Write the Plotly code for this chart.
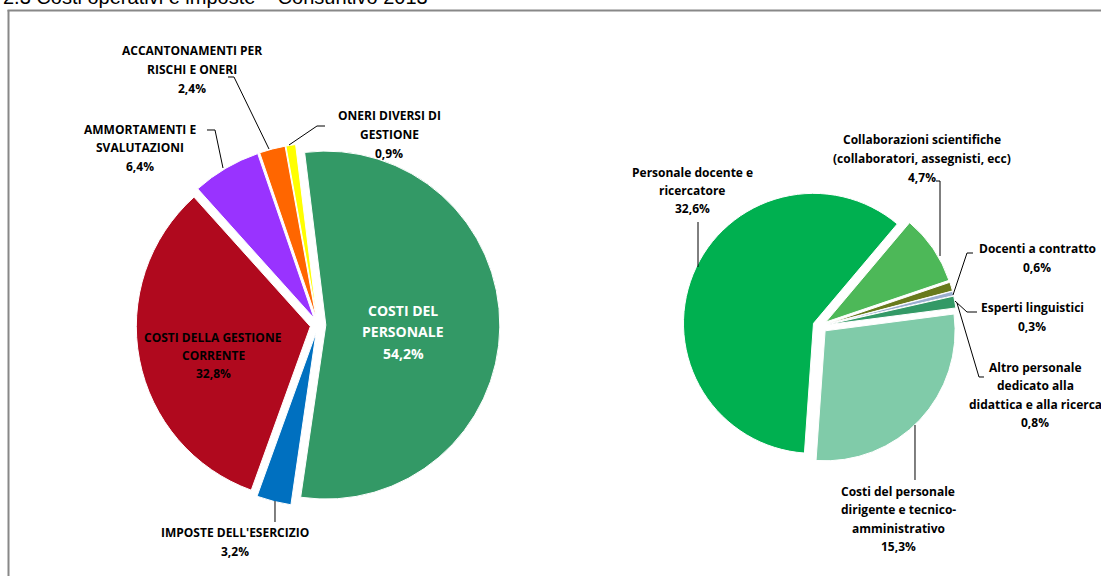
import plotly.graph_objects as go

W, H = 1101, 576

# ---- data -------------------------------------------------------------
title_text = "2.3 Costi operativi e imposte \u2013 Consuntivo 2013"

cost_labels = [
    "COSTI DEL PERSONALE",
    "IMPOSTE DELL'ESERCIZIO",
    "COSTI DELLA GESTIONE CORRENTE",
    "AMMORTAMENTI E SVALUTAZIONI",
    "ACCANTONAMENTI PER RISCHI E ONERI",
    "ONERI DIVERSI DI GESTIONE",
]
cost_values = [54.2, 3.2, 32.8, 6.4, 2.4, 0.9]
cost_colors = ["#339966", "#0070C0", "#B0091E", "#9933FF", "#FF6600", "#FFFF00"]
cost_label_lines = [
    ["COSTI DEL", "PERSONALE"],
    ["IMPOSTE DELL'ESERCIZIO"],
    ["COSTI DELLA GESTIONE", "CORRENTE"],
    ["AMMORTAMENTI E", "SVALUTAZIONI"],
    ["ACCANTONAMENTI PER", "RISCHI E ONERI"],
    ["ONERI DIVERSI DI", "GESTIONE"],
]

staff_labels = [
    "Personale docente e ricercatore",
    "Collaborazioni scientifiche (collaboratori, assegnisti, ecc)",
    "Docenti a contratto",
    "Esperti linguistici",
    "Altro personale dedicato alla didattica e alla ricerca",
    "Costi del personale dirigente e tecnico-amministrativo",
]
staff_values = [32.6, 4.7, 0.6, 0.3, 0.8, 15.3]
staff_colors = ["#00B050", "#4DB858", "#687A1C", "#9AAECF", "#339966", "#80CBA9"]
staff_label_lines = [
    ["Personale docente e", "ricercatore"],
    ["Collaborazioni scientifiche", "(collaboratori, assegnisti, ecc)"],
    ["Docenti a contratto"],
    ["Esperti linguistici"],
    ["Altro personale", "dedicato alla", "didattica e alla ricerca"],
    ["Costi del personale", "dirigente e tecnico-", "amministrativo"],
]


def fx(px):
    return px / W


def fy(py):
    return 1 - py / H


def pct(v):
    return f"{v:.1f}".replace(".", ",") + "%"


def pie_domain(cx, cy, r, pull):
    half = r * (1 + pull)
    return dict(x=[fx(cx - half), fx(cx + half)], y=[fy(cy + half), fy(cy - half)])


LABEL_FONT = "Open Sans"

fig = go.Figure()

left_pull = 0.045
fig.add_trace(go.Pie(
    labels=cost_labels, values=cost_values, sort=False, direction="clockwise",
    rotation=-7, pull=[left_pull] * len(cost_values),
    marker=dict(colors=cost_colors, line=dict(color="white", width=1)),
    textinfo="none", hoverinfo="label+percent",
    domain=pie_domain(318, 325, 174, left_pull),
))

right_pull = 0.054
fig.add_trace(go.Pie(
    labels=staff_labels, values=staff_values, sort=False, direction="clockwise",
    rotation=184, pull=[right_pull] * len(staff_values),
    marker=dict(colors=staff_colors, line=dict(color="white", width=1)),
    textinfo="none", hoverinfo="label+value",
    domain=pie_domain(820, 326, 130, right_pull),
))

annotations = []


def text_block(lines, cx, y0, dy, size=12, color="#000000"):
    for k, line in enumerate(lines):
        annotations.append(dict(
            text=f"<b>{line}</b>", x=fx(cx), y=fy(y0 + k * dy),
            xref="paper", yref="paper", xanchor="center", yanchor="middle",
            showarrow=False, font=dict(family=LABEL_FONT, size=size, color=color),
        ))


# label placement: (center x, first line y, line step, size, colour)
cost_label_pos = [
    (403, 310, 21.5, 14, "#FFFFFF"),
    (235, 532, 19, 12, "#000000"),
    (213, 337, 18, 12, "#000000"),
    (140, 129, 18.5, 12, "#000000"),
    (192, 51, 18.5, 12, "#000000"),
    (389, 116, 18.5, 12, "#000000"),
]
for lines, v, (cx, y0, dy, sz, col) in zip(cost_label_lines, cost_values, cost_label_pos):
    text_block(lines + [pct(v)], cx, y0, dy, sz, col)

staff_label_pos = [
    (692, 172, 18, 12, "#000000"),
    (922, 139, 19, 12, "#000000"),
    (1037, 248, 19, 12, "#000000"),
    (1032, 307, 19, 12, "#000000"),
    (1035, 367, 18.5, 12, "#000000"),
    (898, 491, 18.5, 12, "#000000"),
]
for lines, v, (cx, y0, dy, sz, col) in zip(staff_label_lines, staff_values, staff_label_pos):
    text_block(lines + [pct(v)], cx, y0, dy, sz, col)

# page heading, partly above the top edge
annotations.append(dict(
    text=title_text, x=fx(1), y=fy(-3), xref="paper", yref="paper",
    xanchor="left", yanchor="middle", showarrow=False,
    font=dict(family="Liberation Sans, Arial", size=20, color="#000000"),
))

# leader lines (pixel polylines)
leaders = [
    [(228, 77), (234, 77), (269, 149)],
    [(325, 126), (317, 126), (289, 145)],
    [(207, 130), (215, 130), (223, 168)],
    [(275, 501), (275, 522)],
    [(698, 222), (698, 267)],
    [(936, 181), (940, 181), (940, 256)],
    [(973, 253), (967, 253), (953, 295)],
    [(955, 301), (967, 312), (977, 312)],
    [(957, 303), (979, 377), (984, 377)],
    [(915, 425), (915, 480)],
]
shapes = []
for pts in leaders:
    path = "M " + " L ".join(f"{fx(x):.5f},{fy(y):.5f}" for x, y in pts)
    shapes.append(dict(type="path", path=path, xref="paper", yref="paper",
                       line=dict(color="#000000", width=1)))

# chart frame
shapes.append(dict(type="line", xref="paper", yref="paper",
                   x0=fx(8.5), x1=fx(8.5), y0=fy(10), y1=fy(600),
                   line=dict(color="#888888", width=2)))
shapes.append(dict(type="line", xref="paper", yref="paper",
                   x0=fx(7.5), x1=fx(1120), y0=fy(10.5), y1=fy(10.5),
                   line=dict(color="#888888", width=2)))

fig.update_layout(
    width=W, height=H, margin=dict(l=0, r=0, t=0, b=0),
    paper_bgcolor="white", plot_bgcolor="white", showlegend=False,
    annotations=annotations, shapes=shapes,
)

fig.write_html("out.html")
